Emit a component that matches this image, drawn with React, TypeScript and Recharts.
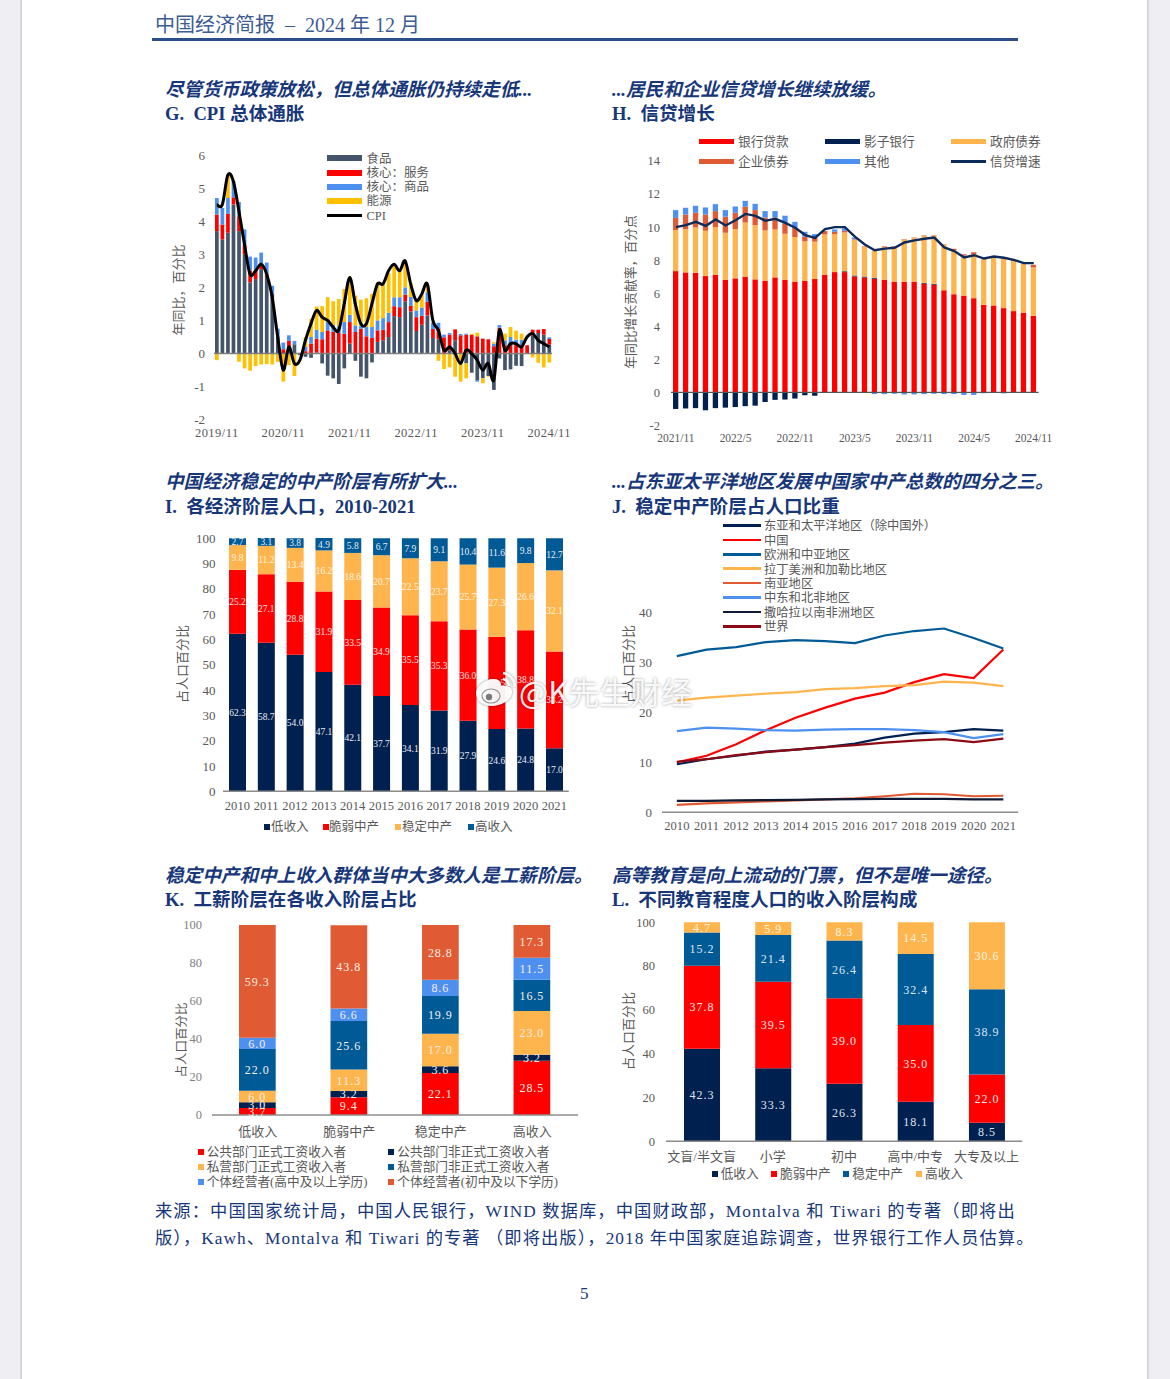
import React from "react";
import { ComposedChart, Bar, Line, XAxis, YAxis, ReferenceLine, LabelList } from "recharts";

const FONT = '"Liberation Serif","Noto Sans CJK SC",serif';
const NAVY = "#002050";
const RED = "#ff0000";
const ORANGE = "#ffb54d";
const TEAL = "#005a96";
const SKY = "#4d90f0";
const BRICK = "#e05a33";
const SLATE = "#44546a";
const GOLD = "#ffc000";
const TICK = "#595959";
const TITLE = "#17377a";

// ---------- G ----------
const gFood = [3.7,3.45,3.65,4.5,3.7,3.0,2.15,2.25,2.55,2.35,1.8,0.5,0,0.23,0.28,-0.05,-0.1,-0.13,0.03,-0.3,-0.67,-0.75,-0.92,-0.45,0.3,-0.22,-0.7,-0.75,-0.27,0.35,0.4,0.5,1.13,1.1,1.58,1.27,0.68,0.87,1.15,0.47,0.43,0.02,0.1,0.4,0,-0.3,-0.58,-0.8,-0.75,-0.68,-1.1,-0.15,-0.5,-0.48,-0.37,-0.38,0,0.55,0.62,0.57,0.27];
const gService = [0.5,0.45,0.57,0.22,0.45,0.3,0.35,0.25,0.1,0.05,0,0,0.13,0.15,0,0,0.07,0.3,0.42,0.43,0.7,0.66,0.62,0.6,0.65,0.65,0.75,0.52,0.47,0.35,0.32,0.45,0.3,0.3,0.2,0.17,0.42,0.27,0.42,0.27,0.33,0.47,0.47,0.33,0.55,0.57,0.57,0.52,0.45,0.43,0.22,0.78,0.25,0.3,0.27,0.25,0.25,0.17,0.1,0.17,0.17];
const gGoods = [0.5,0.5,0.48,0.5,0.43,0.45,0.43,0.4,0.4,0.35,0.25,0.25,0.2,0.17,0.1,0.02,0.13,0.2,0.27,0.22,0.25,0.2,0.2,0.35,0.22,0.2,0.08,0.28,0.33,0.3,0.35,0.28,0.27,0.3,0.22,0.27,0.2,0.25,0.28,0.2,0.17,0.08,0.05,0,0.04,0.03,0,-0.05,0,0,0.08,0.08,0.15,0.2,0.15,0.17,0,0,0,0,0.05];
const gEnergy = [-0.2,0,0.7,0,-0.25,-0.45,-0.52,-0.38,-0.33,-0.32,-0.33,-0.25,-0.85,-0.35,-0.68,0,0.3,0.55,0.7,0.78,0.75,0.72,0.83,1.0,1.15,0.9,0.8,0.87,1.0,1.15,1.0,1.2,0.98,0.8,0.8,0.4,0.3,0.4,0.25,0,-0.22,-0.47,-0.42,-0.7,-0.85,-0.45,0.03,0.11,-0.15,-0.02,0.04,0,0.2,0.3,0.27,0.18,0,-0.12,-0.28,-0.42,-0.27];
const gCpi = [4.5,4.5,5.4,5.2,4.3,3.3,2.4,2.5,2.7,2.4,1.7,0.5,-0.5,0.2,-0.3,-0.2,0.4,0.9,1.3,1.1,1.0,0.8,0.7,1.5,2.3,1.5,0.9,0.9,1.5,2.1,2.1,2.5,2.7,2.5,2.8,2.1,1.6,1.8,2.1,1.0,0.7,0.1,0.2,0,-0.3,0.1,0,-0.2,-0.5,-0.3,-0.8,0.7,0.1,0.3,0.3,0.2,0.5,0.6,0.4,0.3,0.2];
const gMonths = gCpi.map((_, i) => { const t = 10 + i; return `${2019 + Math.floor(t / 12)}/${(t % 12) + 1}`; });
const gRows = gMonths.map((m, i) => ({ m, food: gFood[i], service: gService[i], goods: gGoods[i], energy: gEnergy[i], cpi: gCpi[i] }));
const gTicks = [-2,-1,0,1,2,3,4,5,6];
const gNames = ["食品","核心：服务","核心：商品","能源","CPI"];

// ---------- H ----------
const hLoan = [7.34,7.26,7.24,7.04,7.12,6.82,6.9,7.0,6.84,6.76,6.96,6.82,6.7,6.74,6.86,7.12,7.28,7.28,7.02,6.96,6.88,6.82,6.7,6.7,6.7,6.58,6.52,6.18,5.94,5.86,5.7,5.3,5.26,5.1,4.92,4.82,4.64];
const hShadow = [-1.0,-0.97,-0.95,-1.08,-0.95,-0.92,-0.88,-0.83,-0.8,-0.58,-0.45,-0.43,-0.37,-0.17,-0.2,-0.03,0,0.05,0.05,0.05,0.05,0,0,0,0,0.05,0.05,0,0,0,0,0,0,0,0,0,0];
const hGov = [2.48,2.62,2.74,2.74,2.88,2.84,2.98,3.28,3.28,3.04,2.9,2.78,2.7,2.4,2.26,2.44,2.3,2.35,2.17,1.8,1.63,2.0,2.12,2.54,2.66,2.85,2.9,2.74,2.68,2.42,2.66,2.82,2.9,2.98,3.04,2.94,2.92];
const hCorp = [0.74,0.88,0.89,0.98,0.97,0.97,0.99,0.95,0.91,0.78,0.72,0.62,0.56,0.28,0.25,0.2,0.14,0.1,0.03,0.03,0.01,0.03,0.03,0.03,0.02,0.03,0.03,0.03,0.07,0.08,0.12,0.03,0.08,0.04,0.06,0.02,0.16];
const hOther = [0.47,0.41,0.42,0.43,0.42,0.4,0.38,0.36,0.38,0.39,0.39,0.47,0.36,0.3,0.21,0,0.14,0.15,0.1,0,-0.1,-0.1,-0.08,-0.12,-0.12,-0.1,-0.08,-0.1,-0.1,-0.15,-0.15,-0.05,-0.02,-0.06,-0.03,0,0];
const hGrowth = [10.0,10.12,10.32,10.08,10.46,10.1,10.42,10.8,10.68,10.38,10.5,10.26,9.96,9.52,9.35,9.88,10,10,9.42,8.95,8.6,8.7,8.75,9.07,9.2,9.3,9.37,8.77,8.55,8.17,8.3,8.1,8.22,8.15,8.02,7.82,7.82];
const hMonths = hLoan.map((_, i) => { const t = 10 + i; return `${2021 + Math.floor(t / 12)}/${(t % 12) + 1}`; });
const hRows = hMonths.map((m, i) => ({ m, loan: hLoan[i], shadow: hShadow[i], gov: hGov[i], corp: hCorp[i], other: hOther[i], growth: hGrowth[i] }));
const hTicks = [-2,0,2,4,6,8,10,12,14];
const hNames = ["银行贷款","影子银行","政府债券","企业债券","其他","信贷增速"];

// ---------- I ----------
const years = ["2010","2011","2012","2013","2014","2015","2016","2017","2018","2019","2020","2021"];
const iLow = [62.3,58.7,54.0,47.1,42.1,37.7,34.1,31.9,27.9,24.6,24.8,17.0];
const iFragile = [25.2,27.1,28.8,31.9,33.5,34.9,35.5,35.3,36.0,36.5,38.8,38.2];
const iStable = [9.8,11.2,13.4,16.2,18.6,20.7,22.5,23.7,25.7,27.3,26.6,32.1];
const iHigh = [2.7,3.1,3.8,4.9,5.8,6.7,7.9,9.1,10.4,11.6,9.8,12.7];
const iRows = years.map((y, i) => ({ y, low: iLow[i], fragile: iFragile[i], stable: iStable[i], high: iHigh[i] }));
const iTicks = [0,10,20,30,40,50,60,70,80,90,100];
const classNames = ["低收入","脆弱中产","稳定中产","高收入"];

// ---------- J ----------
const jEastAsia = [9.6,10.6,11.3,12.1,12.5,13,13.7,14.9,15.7,16,16.6,16.3];
const jChina = [10,11.3,13.6,16.4,18.9,20.9,22.7,23.9,26,27.6,26.8,32.5];
const jEurope = [31.2,32.5,33,34,34.4,34.2,33.8,35.3,36.2,36.7,34.8,32.7];
const jLatam = [22.3,22.9,23.3,23.7,24,24.6,24.8,25.2,25.4,26.1,25.9,25.2];
const jSouthAsia = [1.5,1.8,2.0,2.2,2.4,2.6,2.8,3.2,3.7,3.6,3.2,3.3];
const jMena = [16.2,16.9,16.7,16.4,16.3,16.5,16.6,16.6,16.4,16,14.8,15.6];
const jSsa = [2.3,2.3,2.4,2.45,2.5,2.6,2.65,2.7,2.7,2.7,2.6,2.6];
const jWorld = [10.1,10.6,11.4,12,12.5,13,13.4,13.9,14.3,14.6,14,14.7];
const jRows = years.map((y, i) => ({ y, ea: jEastAsia[i], cn: jChina[i], eu: jEurope[i], la: jLatam[i], sa: jSouthAsia[i], me: jMena[i], ss: jSsa[i], wd: jWorld[i] }));
const jTicks = [0,10,20,30,40];
const jNames = ["东亚和太平洋地区（除中国外）","中国","欧洲和中亚地区","拉丁美洲和加勒比地区","南亚地区","中东和北非地区","撒哈拉以南非洲地区","世界"];
const jColors = [NAVY,RED,TEAL,ORANGE,BRICK,SKY,"#0e1a36","#8b0a14"];
const jKeys = ["ea","cn","eu","la","sa","me","ss","wd"];

// ---------- K ----------
const kCats = ["低收入","脆弱中产","稳定中产","高收入"];
const kPubFormal = [3.7,9.4,22.1,28.5];
const kPubInformal = [3.0,3.2,3.6,3.2];
const kPrivFormal = [6.0,11.3,17.0,23.0];
const kPrivInformal = [22.0,25.6,19.9,16.5];
const kSelfHigh = [6.0,6.6,8.6,11.5];
const kSelfLow = [59.3,43.8,28.8,17.3];
const kRows = kCats.map((c, i) => ({ c, a: kPubFormal[i], b: kPubInformal[i], d: kPrivFormal[i], e: kPrivInformal[i], f: kSelfHigh[i], g: kSelfLow[i] }));
const kTicks = [0,20,40,60,80,100];
const kNames = ["公共部门正式工资收入者","公共部门非正式工资收入者","私营部门正式工资收入者","私营部门非正式工资收入者","个体经营者(高中及以上学历)","个体经营者(初中及以下学历)"];
const kColors = [RED,NAVY,ORANGE,TEAL,SKY,BRICK];
const kKeys = ["a","b","d","e","f","g"];

// ---------- L ----------
const lCats = ["文盲/半文盲","小学","初中","高中/中专","大专及以上"];
const lLow = [42.3,33.3,26.3,18.1,8.5];
const lFragile = [37.8,39.5,39.0,35.0,22.0];
const lStable = [15.2,21.4,26.4,32.4,38.9];
const lHigh = [4.7,5.9,8.3,14.5,30.6];
const lRows = lCats.map((c, i) => ({ c, low: lLow[i], fragile: lFragile[i], stable: lStable[i], high: lHigh[i] }));
const lTicks = [0,20,40,60,80,100];

// ---------- helpers ----------
// Spreadsheet-style smoothed line (Catmull-Rom through the data points).
const smoothCurve = (ctx: any) => {
  let pts: number[][] = [];
  return {
    areaStart() {},
    areaEnd() {},
    lineStart() { pts = []; },
    point(x: number, y: number) { pts.push([+x, +y]); },
    lineEnd() {
      const n = pts.length;
      if (!n) return;
      ctx.moveTo(pts[0][0], pts[0][1]);
      for (let i = 0; i < n - 1; i++) {
        const p0 = pts[Math.max(i - 1, 0)];
        const p1 = pts[i];
        const p2 = pts[i + 1];
        const p3 = pts[Math.min(i + 2, n - 1)];
        ctx.bezierCurveTo(p1[0] + (p2[0] - p0[0]) / 6, p1[1] + (p2[1] - p0[1]) / 6, p2[0] - (p3[0] - p1[0]) / 6, p2[1] - (p3[1] - p1[1]) / 6, p2[0], p2[1]);
      }
    },
  };
};

const box = (l: number, r: number, t: number, b: number) => ({
  style: { position: "absolute" as const, left: l - 40, top: t - 12 },
  width: r - l + 70,
  height: b - t + 47,
  margin: { left: 10, right: 30, top: 12, bottom: 5 },
});

const T = ({ x, y, size = 13, color = TICK, children, style }: any) => (
  <div style={{ position: "absolute", left: x, top: y + 1 - size * 0.7, fontSize: size, lineHeight: `${size * 1.4}px`, color, whiteSpace: "pre", fontFamily: FONT, ...style }}>{children}</div>
);
const YT = ({ x, y, size = 13, children }: any) => (
  <div style={{ position: "absolute", left: x, top: y, fontSize: size, lineHeight: "1", color: TICK, whiteSpace: "nowrap", fontFamily: FONT, transform: "translate(-50%,-50%) rotate(-90deg)" }}>{children}</div>
);
const Swatch = ({ x, y, w, h, color }: any) => (
  <div style={{ position: "absolute", left: x, top: y - h / 2, width: w, height: h, background: color }} />
);
const Head = ({ x, y1, y2, a, b }: any) => (
  <>
    <T x={x} y={y1 + 0.5} size={18.6} color={TITLE} style={{ fontWeight: 700, fontStyle: "italic" }}>{a}</T>
    <T x={x} y={y2 + 0.5} size={18.6} color={TITLE} style={{ fontWeight: 700 }}>{b}</T>
  </>
);

const yProps = (ticks: number[], margin: number, size = 13, fill = TICK) => ({
  type: "number" as const,
  domain: [ticks[0], ticks[ticks.length - 1]] as [number, number],
  ticks,
  interval: 0 as const,
  width: 30,
  tickLine: false,
  axisLine: false,
  tickSize: 0,
  tickMargin: margin,
  tick: { fill, fontSize: size, fontFamily: FONT },
});
const xProps = (key: string, interval: number, margin: number, size = 13, line = true, spacing = 0) => ({
  dataKey: key,
  interval,
  height: 30,
  tickLine: false,
  tickSize: 0,
  tickMargin: margin,
  axisLine: line ? { stroke: "#8c8c8c", strokeWidth: 1.5 } : false,
  tick: { fill: TICK, fontSize: size, fontFamily: FONT, letterSpacing: spacing },
});
const seg = (fill: string, size = 10, spacing = 0) => ({
  position: "center" as const,
  fill,
  fontSize: size,
  fontFamily: FONT,
  letterSpacing: spacing,
  formatter: (v: any) => Number(v).toFixed(1),
});

export default function App() {
  return (
    <div style={{ position: "absolute", left: 0, top: 0, width: 1170, height: 1379, background: "#eeeef3", overflow: "hidden", fontFamily: FONT }}>
      <div style={{ position: "absolute", left: 22, top: -10, width: 1125, height: 1400, background: "#fff", boxShadow: "0 0 3px rgba(0,0,0,.35)" }} />

      <T x={155} y={24} size={20} color="#3d5c94">中国经济简报  –  2024 年 12 月</T>
      <div style={{ position: "absolute", left: 152, top: 38, width: 866, height: 2.5, background: "#2c4f8c" }} />

      <Head x={165} y1={89} y2={113} a="尽管货币政策放松，但总体通胀仍持续走低..." b="G.  CPI 总体通胀" />
      <Head x={612} y1={89} y2={113} a="...居民和企业信贷增长继续放缓。" b="H.  信贷增长" />
      <Head x={165} y1={481} y2={506} a="中国经济稳定的中产阶层有所扩大..." b="I.  各经济阶层人口，2010-2021" />
      <Head x={612} y1={481} y2={506} a="...占东亚太平洋地区发展中国家中产总数的四分之三。" b="J.  稳定中产阶层占人口比重" />
      <Head x={165} y1={875} y2={899} a="稳定中产和中上收入群体当中大多数人是工薪阶层。" b="K.  工薪阶层在各收入阶层占比" />
      <Head x={612} y1={875} y2={899} a="高等教育是向上流动的门票，但不是唯一途径。" b="L.  不同教育程度人口的收入阶层构成" />

      {/* G */}
      <ComposedChart {...box(214, 552, 155, 419.7)} data={gRows} stackOffset="sign" barSize={3.7}>
        <XAxis {...xProps("m", 11, 8.3, 12.5, false, 0.45)} />
        <YAxis {...yProps(gTicks, 9)} />
        <Bar dataKey="food" stackId="s" fill={SLATE} isAnimationActive={false} />
        <Bar dataKey="service" stackId="s" fill={RED} isAnimationActive={false} />
        <Bar dataKey="goods" stackId="s" fill={SKY} isAnimationActive={false} />
        <Bar dataKey="energy" stackId="s" fill={GOLD} isAnimationActive={false} />
        <ReferenceLine y={0} stroke="#7f7f7f" strokeWidth={1.5} />
        <Line dataKey="cpi" type={smoothCurve as any} stroke="#000" strokeWidth={3} dot={false} isAnimationActive={false} />
      </ComposedChart>
      <YT x={178} y={290}>年同比，百分比</YT>
      {[SLATE, RED, SKY, GOLD].map((c, i) => <Swatch key={c} x={327} y={158.3 + i * 14.3} w={35} h={6} color={c} />)}
      <Swatch x={327} y={215.3} w={35} h={3} color="#000" />
      {gNames.map((n, i) => <T key={n} x={366.5} y={158.3 + i * 14.3} size={12.5}>{n}</T>)}

      {/* H */}
      <ComposedChart {...box(671, 1038.7, 161, 425.5)} data={hRows} stackOffset="sign" barSize={5.3}>
        <XAxis {...xProps("m", 5, 8, 11.5, false)} />
        <YAxis {...yProps(hTicks, 11, 12.5)} />
        <Bar dataKey="loan" stackId="s" fill={RED} isAnimationActive={false} />
        <Bar dataKey="shadow" stackId="s" fill={NAVY} isAnimationActive={false} />
        <Bar dataKey="gov" stackId="s" fill={ORANGE} isAnimationActive={false} />
        <Bar dataKey="corp" stackId="s" fill={BRICK} isAnimationActive={false} />
        <Bar dataKey="other" stackId="s" fill={SKY} isAnimationActive={false} />
        <ReferenceLine y={0} stroke="#555" strokeWidth={1.2} />
        <Line dataKey="growth" type="linear" stroke="#0e2a5a" strokeWidth={2.4} dot={false} isAnimationActive={false} />
      </ComposedChart>
      <YT x={630.7} y={291.7} size={12.8}>年同比增长贡献率，百分点</YT>
      {[RED, NAVY, ORANGE, BRICK, SKY].map((c, i) => <Swatch key={c} x={699 + (i % 3) * 126} y={141.5 + Math.floor(i / 3) * 20} w={35} h={5.5} color={c} />)}
      <Swatch x={951} y={161.5} w={35} h={2.5} color="#0e2a5a" />
      {hNames.map((n, i) => <T key={n} x={738 + (i % 3) * 126} y={142 + Math.floor(i / 3) * 20} size={12.7}>{n}</T>)}

      {/* I */}
      <ComposedChart {...box(222.6, 568.4, 537.7, 791)} data={iRows} barSize={17}>
        <XAxis {...xProps("y", 0, 9.5, 12.5, true, 0.1)} />
        <YAxis {...yProps(iTicks, 7.5)} />
        <Bar dataKey="low" stackId="s" fill={NAVY} isAnimationActive={false}><LabelList dataKey="low" {...seg("#e8ecf4", 9.5)} /></Bar>
        <Bar dataKey="fragile" stackId="s" fill={RED} isAnimationActive={false}><LabelList dataKey="fragile" {...seg("#ffe0e0", 9.5)} /></Bar>
        <Bar dataKey="stable" stackId="s" fill={ORANGE} isAnimationActive={false}><LabelList dataKey="stable" {...seg("#fff4e0", 9.5)} /></Bar>
        <Bar dataKey="high" stackId="s" fill={TEAL} isAnimationActive={false}><LabelList dataKey="high" {...seg("#e8ecf4", 9.5)} /></Bar>
      </ComposedChart>
      <YT x={182} y={664}>占人口百分比</YT>
      {[NAVY, RED, ORANGE, TEAL].map((c, i) => <Swatch key={c} x={[264, 322.7, 395, 467.5][i]} y={827} w={6} h={6} color={c} />)}
      {classNames.map((n, i) => <T key={n} x={[271, 329, 402, 475][i]} y={827} size={12.5}>{n}</T>)}

      {/* J */}
      <ComposedChart {...box(661.8, 1018, 611.7, 812)} data={jRows}>
        <XAxis {...xProps("y", 0, 9, 12.5, true, 0.1)} padding={{ left: 14.85, right: 14.85 }} />
        <YAxis {...yProps(jTicks, 10)} />
        {jKeys.map((k, i) => <Line key={k} dataKey={k} type="linear" stroke={jColors[i]} strokeWidth={2.2} dot={false} isAnimationActive={false} />)}
      </ComposedChart>
      <YT x={628} y={664}>占人口百分比</YT>
      {jNames.map((n, i) => (
        <React.Fragment key={n}>
          <Swatch x={723.3} y={525.5 + i * 14.4} w={37.4} h={2.6} color={jColors[i]} />
          <T x={764} y={526 + i * 14.4} size={12.3}>{n}</T>
        </React.Fragment>
      ))}

      {/* K */}
      <ComposedChart {...box(212.25, 578.3, 925, 1115)} data={kRows} barSize={36.7}>
        <XAxis {...xProps("c", 0, 12, 13)} />
        <YAxis {...yProps(kTicks, 10, 12.5, "#808080")} />
        {kKeys.map((k, i) => (
          <Bar key={k} dataKey={k} stackId="s" fill={kColors[i]} isAnimationActive={false}>
            <LabelList dataKey={k} {...seg("#f8eee6", 12, 1)} />
          </Bar>
        ))}
      </ComposedChart>
      <YT x={181.7} y={1040} size={12.5}>占人口百分比</YT>
      {kNames.map((n, i) => (
        <React.Fragment key={n}>
          <Swatch x={198.3 + (i % 2) * 190} y={1152 + Math.floor(i / 2) * 15} w={6} h={6} color={kColors[i]} />
          <T x={206.7 + (i % 2) * 190.6} y={1152 + Math.floor(i / 2) * 15} size={12.7}>{n}</T>
        </React.Fragment>
      ))}

      {/* L */}
      <ComposedChart {...box(666.4, 1022.6, 921.7, 1141)} data={lRows} barSize={36}>
        <XAxis {...xProps("c", 0, 10.5, 13)} />
        <YAxis {...yProps(lTicks, 11, 12.5)} />
        <Bar dataKey="low" stackId="s" fill={NAVY} isAnimationActive={false}><LabelList dataKey="low" {...seg("#dde3ee", 12, 1)} /></Bar>
        <Bar dataKey="fragile" stackId="s" fill={RED} isAnimationActive={false}><LabelList dataKey="fragile" {...seg("#ffe6e6", 12, 1)} /></Bar>
        <Bar dataKey="stable" stackId="s" fill={TEAL} isAnimationActive={false}><LabelList dataKey="stable" {...seg("#dde3ee", 12, 1)} /></Bar>
        <Bar dataKey="high" stackId="s" fill={ORANGE} isAnimationActive={false}><LabelList dataKey="high" {...seg("#fff4e0", 12, 1)} /></Bar>
      </ComposedChart>
      <YT x={628} y={1031}>占人口百分比</YT>
      {[NAVY, RED, TEAL, ORANGE].map((c, i) => <Swatch key={c} x={[711.7, 771.3, 843.3, 916][i]} y={1174} w={6} h={6} color={c} />)}
      {classNames.map((n, i) => <T key={n} x={[720.7, 780, 852.3, 925][i]} y={1174} size={12.7}>{n}</T>)}

      {/* footer */}
      <T x={155} y={1211} size={17.3} color={TITLE} style={{ letterSpacing: 1.08 }}>来源：中国国家统计局，中国人民银行，WIND 数据库，中国财政部，Montalva 和 Tiwari 的专著（即将出</T>
      <T x={155} y={1238} size={17.3} color={TITLE} style={{ letterSpacing: 1.04 }}>版），Kawh、Montalva 和 Tiwari 的专著 （即将出版），2018 年中国家庭追踪调查，世界银行工作人员估算。</T>
      <T x={580} y={1293} size={17} color={TITLE}>5</T>

      {/* watermark */}
      <svg style={{ position: "absolute", left: 472, top: 668 }} width={46} height={42}>
        <g style={{ filter: "drop-shadow(0 0 1.5px rgba(0,0,0,.45))" }}>
          <path d="M4 25 C4 17 18 8 26 12 C30 14 29 17 29 18 C36 17 41 20 40 25 C39 33 28 38 20 38 C11 38 4 33 4 25 Z" fill="rgba(255,255,255,.95)" />
          <path d="M31 5 A14 14 0 0 1 43 19" fill="none" stroke="rgba(255,255,255,.95)" strokeWidth={2.6} />
          <path d="M31 11 A8 8 0 0 1 37 18" fill="none" stroke="rgba(255,255,255,.95)" strokeWidth={2.4} />
        </g>
        <ellipse cx={19} cy={28} rx={9} ry={7} fill="none" stroke="rgba(110,110,110,.7)" strokeWidth={1.2} />
        <circle cx={17} cy={29} r={3.2} fill="rgba(80,80,80,.75)" />
      </svg>
      <T x={519} y={690} size={31} color="rgba(255,255,255,.92)" style={{ textShadow: "0 0 3px rgba(0,0,0,.38)", fontFamily: '"Noto Sans CJK SC",sans-serif' }}>@K先生财经</T>
    </div>
  );
}
